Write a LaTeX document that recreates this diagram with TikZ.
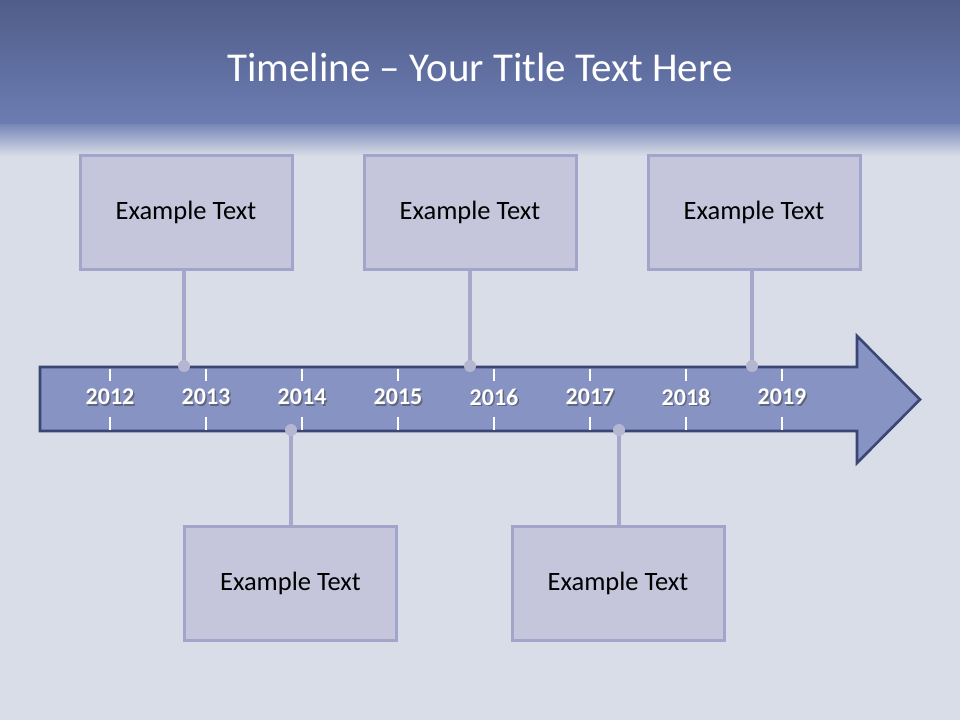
\documentclass[tikz,border=0pt]{standalone}
\usepackage{fontspec}
\setmainfont{Carlito}
\definecolor{hdtop}{HTML}{505D8A}
\definecolor{hdbot}{HTML}{6C7DB2}
\definecolor{bgc}{HTML}{D8DDE8}
\definecolor{arrfill}{HTML}{8794C3}
\definecolor{arrline}{HTML}{3A4775}
\definecolor{boxfill}{HTML}{C5C6DC}
\definecolor{boxline}{HTML}{A2A4C9}
\definecolor{conn}{HTML}{A6A8CB}
\definecolor{dotc}{HTML}{B4B6D2}
\tikzset{
  ebox/.style={draw=boxline, line width=3pt, fill=boxfill, minimum width=212pt, minimum height=114pt, inner sep=0pt,
    font=\fontsize{26.5}{30}\selectfont, text=black},
  connline/.style={draw=conn, line width=4.2pt},
  dotmark/.style={fill=dotc},
  yearlab/.style={font=\fontsize{24}{26}\selectfont\bfseries, text=white, inner sep=0pt},
  yearshadow/.style={font=\fontsize{24}{26}\selectfont\bfseries, text=black!75, opacity=0.55, inner sep=0pt},
  tick/.style={draw=white, line width=1.2pt}
}
\begin{document}
\begin{tikzpicture}[x=1pt,y=-1pt]
\useasboundingbox (0,0) rectangle (960,720);
% background
\fill[bgc] (0,0) rectangle (960,720);
\shade[top color=hdtop, bottom color=hdbot] (0,0) rectangle (960,124);
\shade[top color=hdbot!90!bgc, bottom color=bgc] (0,124) rectangle (960,156);
% title
\node[font=\fontsize{41}{48}\selectfont, text=white] (title) at (480,67) {Timeline – Your Title Text Here};
% arrow
\draw[fill=arrfill, draw=arrline, line width=2.6pt, line join=miter]
  (40,367) -- (857,367) -- (857,336) -- (920,399.5) -- (857,463) -- (857,431) -- (40,431) -- cycle;
% ticks and years
\foreach \yr/\x in {2012/110,2013/206,2014/302,2015/398,2016/494,2017/590,2018/686,2019/782}{
  \draw[tick] (\x,368.5) -- (\x,381);
  \draw[tick] (\x,417) -- (\x,429.5);
  \node[yearshadow] (s\yr) at (\x+1.5,398.5) {\yr};
  \node[yearlab] (y\yr) at (\x,397) {\yr};
}
% boxes
\node[ebox] (b1) at (186,212) {Example Text};
\node[ebox] (b2) at (470,212) {Example Text};
\node[ebox] (b3) at (754,212) {Example Text};
\node[ebox] (b4) at (290.5,583) {Example Text};
\node[ebox] (b5) at (618,583) {Example Text};
% dots
\coordinate (d1) at (184,366);
\coordinate (d2) at (470,366);
\coordinate (d3) at (752,366);
\coordinate (d4) at (291,430);
\coordinate (d5) at (619,430);
% connectors
\draw[connline] (b1.south -| d1) -- (d1);
\draw[connline] (b2.south -| d2) -- (d2);
\draw[connline] (b3.south -| d3) -- (d3);
\draw[connline] (b4.north -| d4) -- (d4);
\draw[connline] (b5.north -| d5) -- (d5);
\foreach \d in {d1,d2,d3,d4,d5}{ \fill[dotmark] (\d) circle (6); }
\end{tikzpicture}
\end{document}
